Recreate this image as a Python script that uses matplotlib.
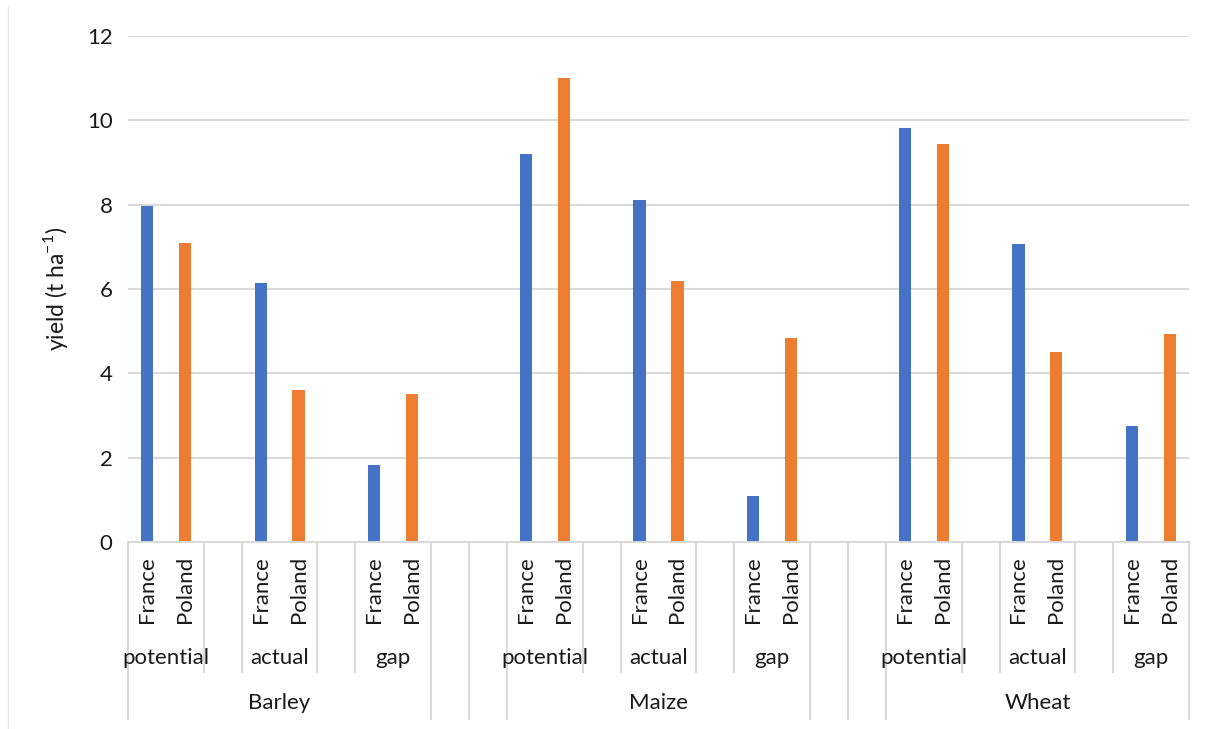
import matplotlib.pyplot as plt
from matplotlib.lines import Line2D
import matplotlib.transforms as mtransforms

plt.rcParams['font.family'] = ['Lato', 'DejaVu Sans']

crops = ['Barley', 'Maize', 'Wheat']
measures = ['potential', 'actual', 'gap']
countries = ['France', 'Poland']

# yield (t/ha) per crop x measure, in the order above
france = [7.97, 6.14, 1.83, 9.20, 8.10, 1.09, 9.82, 7.07, 2.75]
poland = [7.10, 3.60, 3.50, 11.00, 6.18, 4.84, 9.45, 4.50, 4.94]

BLUE = '#4472C4'
ORANGE = '#ED7D31'
GRID = '#D9D9D9'
TEXT = '#1a1a1a'
FS = 16

W, H = 1210, 729
fig = plt.figure(figsize=(W / 100, H / 100), dpi=100)
x0, x1, y_top, y_bot = 128, 1189, 36, 542
ax = fig.add_axes([x0 / W, 1 - y_bot / H, (x1 - x0) / W, (y_bot - y_top) / H])


def ax_y(py):
    # pixel row -> axes fraction (negative below the x axis)
    return (y_bot - py) / (y_bot - y_top)


# slot layout: each crop takes 8 slots (3 measures x 2 countries + 2 spacers),
# with 2 empty slots between crops
crop_step, measure_step = 10, 3
n_slots = crop_step * (len(crops) - 1) + 8

xs_f, xs_p = [], []
for ci in range(len(crops)):
    for mi in range(len(measures)):
        base = ci * crop_step + mi * measure_step
        xs_f.append(base + 0.5)
        xs_p.append(base + 1.5)

bw = 0.32
ax.bar(xs_f, france, width=bw, color=BLUE, zorder=3)
ax.bar(xs_p, poland, width=bw, color=ORANGE, zorder=3)

ax.set_xlim(0, n_slots)
ax.set_ylim(0, 12)
ax.set_yticks(range(0, 13, 2))
ax.set_xticks([])
ax.tick_params(axis='y', length=0, pad=11, labelsize=FS, labelcolor=TEXT)
ax.grid(axis='y', color=GRID, lw=1.4, zorder=0)
for side in ['top', 'right', 'left']:
    ax.spines[side].set_visible(False)
ax.spines['bottom'].set_color(GRID)
ax.spines['bottom'].set_linewidth(1.4)
ax.spines['bottom'].set_zorder(4)

ax.set_ylabel('yield (t ha$^{\\mathregular{-1}}$)', fontsize=16.5, color=TEXT, labelpad=12)

trans = mtransforms.blended_transform_factory(ax.transData, ax.transAxes)
mid_y, low_y = ax_y(672), ax_y(719)


def vline(x, y_end):
    ax.add_line(Line2D([x, x], [0, y_end], transform=trans, color=GRID,
                       lw=1.4, clip_on=False))


# category dividers under the axis
outer = [0, n_slots]
for ci in range(len(crops)):
    start = ci * crop_step
    outer += [start, start + 8]
    if ci < len(crops) - 1:
        outer.append(start + 9)
    for mi in range(len(measures) - 1):
        vline(start + mi * measure_step + 2, mid_y)
        vline(start + mi * measure_step + 3, mid_y)
for x in sorted(set(outer)):
    vline(x, low_y)

# category labels
for ci, crop in enumerate(crops):
    start = ci * crop_step
    for mi, m in enumerate(measures):
        base = start + mi * measure_step
        for k, c in enumerate(countries):
            ax.text(base + 0.5 + k, ax_y(556), c, transform=trans, rotation=90,
                    ha='center', va='top', fontsize=FS, color=TEXT)
        ax.text(base + 1, ax_y(658), m, transform=trans, ha='center',
                va='center', fontsize=FS, color=TEXT)
    ax.text(start + 4, ax_y(703), crop, transform=trans, ha='center',
            va='center', fontsize=FS, color=TEXT)

# chart frame edge
fig.add_artist(Line2D([8 / W, 8 / W], [0, 1 - 7 / H], transform=fig.transFigure,
                      color='#E6E6E6', lw=1))

fig.savefig('out.png', dpi=100)
